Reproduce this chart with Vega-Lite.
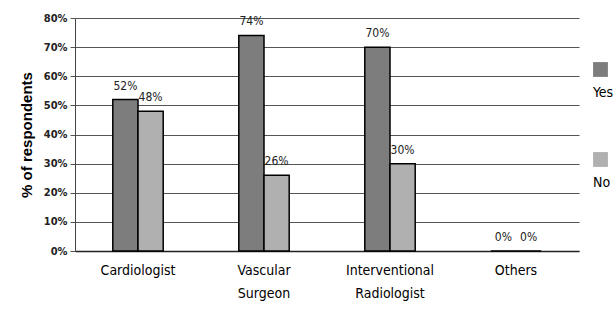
{
  "$schema": "https://vega.github.io/schema/vega-lite/v6.json",
  "width": 504,
  "height": 233,
  "autosize": "none",
  "padding": {"left": 75, "top": 18, "right": 35, "bottom": 59},
  "background": "white",
  "data": {"values": [
    {"cat": "Cardiologist", "resp": "Yes", "v": 0.52},
    {"cat": "Cardiologist", "resp": "No", "v": 0.48},
    {"cat": "Vascular Surgeon", "resp": "Yes", "v": 0.74},
    {"cat": "Vascular Surgeon", "resp": "No", "v": 0.26},
    {"cat": "Interventional Radiologist", "resp": "Yes", "v": 0.70},
    {"cat": "Interventional Radiologist", "resp": "No", "v": 0.30},
    {"cat": "Others", "resp": "Yes", "v": 0.0},
    {"cat": "Others", "resp": "No", "v": 0.0}
  ]},
  "encoding": {
    "x": {"field": "cat", "type": "nominal", "sort": null,
      "scale": {"paddingInner": 0.6, "paddingOuter": 0.3},
      "axis": {"title": null, "labelAngle": 0, "labelExpr": "split(datum.label, ' ')",
        "labelFont": "'DejaVu Sans Condensed', Roboto, sans-serif", "labelFontSize": 14, "labelColor": "#000",
        "labelPadding": 12, "labelLineHeight": 23, "ticks": false, "domain": true,
        "domainColor": "#222", "domainWidth": 1.5}},
    "xOffset": {"field": "resp", "type": "nominal", "sort": ["Yes", "No"]},
    "y": {"field": "v", "type": "quantitative",
      "scale": {"domain": [0, 0.8], "nice": false},
      "axis": {"title": "% of respondents", "format": ".0%", "values": [0,0.1,0.2,0.3,0.4,0.5,0.6,0.7,0.8],
        "titleFont": "Liberation Sans", "titleFontSize": 15, "titleFontWeight": "bold", "titleColor": "#000",
        "titlePadding": 9,
        "labelFont": "'DejaVu Sans Condensed', Roboto, sans-serif", "labelFontSize": 11, "labelFontWeight": "bold", "labelColor": "#222",
        "labelPadding": 3, "ticks": true, "tickSize": 5, "tickColor": "#555", "domain": true, "domainColor": "#444",
        "grid": true, "gridColor": "#555", "gridWidth": 1}}
  },
  "layer": [
    {
      "mark": {"type": "bar", "stroke": "#000", "strokeWidth": 1.5},
      "encoding": {
        "fill": {"field": "resp", "type": "nominal", "sort": ["Yes", "No"],
          "scale": {"domain": ["Yes", "No"], "range": ["#7d7d7d", "#b0b0b0"]},
          "legend": {"title": null, "orient": "none", "legendX": 518, "legendY": 44,
            "symbolType": "square", "symbolSize": 220, "symbolStrokeWidth": 0,
            "labelExpr": "['\u00a0', '\u00a0', datum.label]",
            "labelBaseline": "top",
            "labelFont": "'DejaVu Sans Condensed', Roboto, sans-serif", "labelFontSize": 14, "labelColor": "#000",
            "rowPadding": 36, "labelOffset": -15}}
      }
    },
    {
      "mark": {"type": "text", "baseline": "bottom", "dy": -7, "font": "'DejaVu Sans Condensed', Roboto, sans-serif", "fontSize": 12, "color": "#222"},
      "encoding": {
        "text": {"field": "v", "type": "quantitative", "format": ".0%"}
      }
    }
  ],
  "config": {"view": {"stroke": null}}
}
